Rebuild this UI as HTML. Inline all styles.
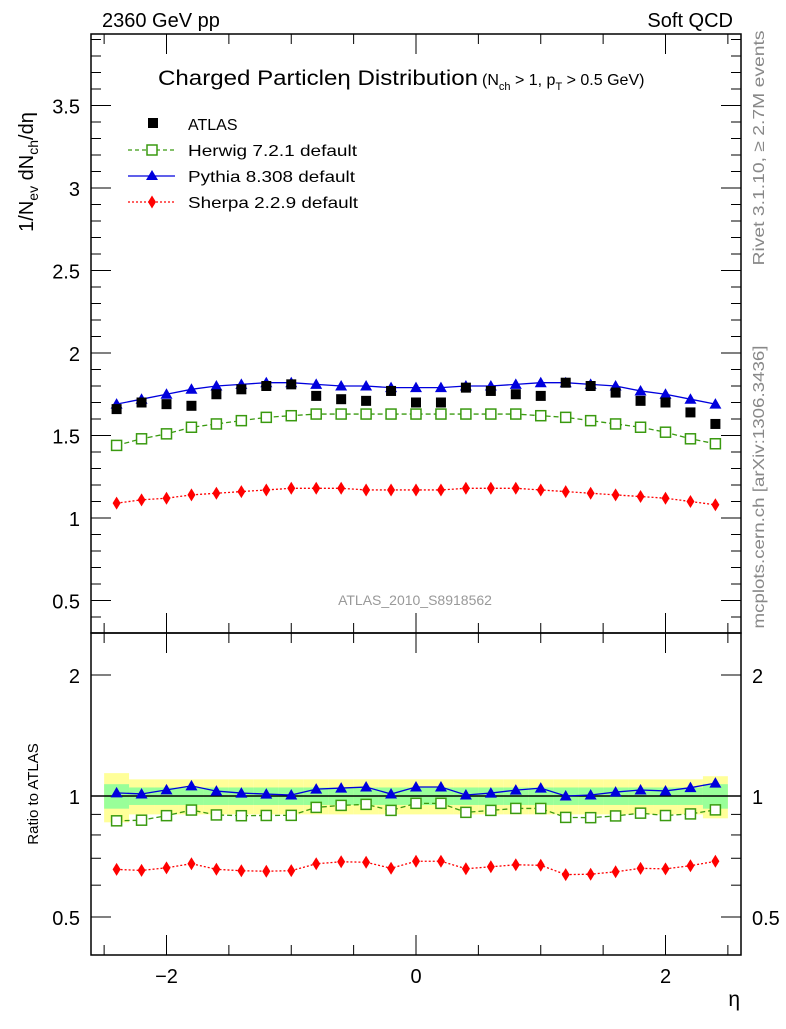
<!DOCTYPE html>
<html><head><meta charset="utf-8"><style>
body{margin:0;background:#fff}
svg text{font-family:"Liberation Sans",Arial,sans-serif}
</style></head><body>
<svg id="c" width="786" height="1024" viewBox="0 0 786 1024" xmlns="http://www.w3.org/2000/svg">
<g id="bands"></g>
<g id="marks"></g>
<g id="axes" stroke="#000" fill="none" stroke-width="1.5"></g>
<g id="labels"></g>
</svg>
<script>
const etas=[-2.4,-2.2,-2.0,-1.8,-1.6,-1.4,-1.2,-1.0,-0.8,-0.6,-0.4,-0.2,0,0.2,0.4,0.6,0.8,1.0,1.2,1.4,1.6,1.8,2.0,2.2,2.4];
const atlas=[1.66,1.70,1.69,1.68,1.75,1.78,1.80,1.81,1.74,1.72,1.71,1.77,1.70,1.70,1.79,1.77,1.75,1.74,1.82,1.80,1.76,1.71,1.70,1.64,1.57];
const pythia=[1.69,1.72,1.75,1.78,1.80,1.81,1.82,1.82,1.81,1.80,1.80,1.79,1.79,1.79,1.80,1.80,1.81,1.82,1.82,1.81,1.80,1.77,1.75,1.72,1.69];
const herwig=[1.44,1.48,1.51,1.55,1.57,1.59,1.61,1.62,1.63,1.63,1.63,1.63,1.63,1.63,1.63,1.63,1.63,1.62,1.61,1.59,1.57,1.55,1.52,1.48,1.45];
const sherpa=[1.09,1.11,1.12,1.14,1.15,1.16,1.17,1.18,1.18,1.18,1.17,1.17,1.17,1.17,1.18,1.18,1.18,1.17,1.16,1.15,1.14,1.13,1.12,1.10,1.08];
const statErr=[0.07,0.05,0.05,0.05,0.05,0.05,0.05,0.05,0.05,0.05,0.05,0.05,0.05,0.05,0.05,0.05,0.05,0.05,0.05,0.05,0.05,0.05,0.05,0.05,0.07];
const totErr=[0.14,0.10,0.10,0.10,0.10,0.10,0.10,0.10,0.10,0.10,0.10,0.10,0.10,0.10,0.10,0.10,0.10,0.10,0.10,0.10,0.10,0.10,0.10,0.10,0.12];
const topTicks=[0.5,1,1.5,2,2.5,3,3.5];
const ratioTicks=[0.5,1,2];
const xTicks=[-2,0,2];

const L=91,R=741,T=34,M=633,B=955;
const X=v=>416+v*124.75;
const Y=v=>600.5-(v-0.5)*165;
const YR=v=>796-121*Math.log2(v);
const NS="http://www.w3.org/2000/svg";
function el(tag,attrs,parent){const e=document.createElementNS(NS,tag);for(const k in attrs)e.setAttribute(k,attrs[k]);parent.appendChild(e);return e;}
const bands=document.getElementById('bands'),marks=document.getElementById('marks'),axes=document.getElementById('axes'),labels=document.getElementById('labels');
const hw=0.1*124.75;
etas.forEach((e,i)=>{
 let r=el('rect',{x:X(e)-hw,width:2*hw,y:YR(1+totErr[i]),height:YR(1-totErr[i])-YR(1+totErr[i]),fill:'#ffff99'},bands);
 
 
});
etas.forEach((e,i)=>{
 let r=el('rect',{x:X(e)-hw,width:2*hw,y:YR(1+statErr[i]),height:YR(1-statErr[i])-YR(1+statErr[i]),fill:'#99ff99'},bands);
 
 
});
let one=el('line',{x1:L,x2:R,y1:YR(1),y2:YR(1),stroke:'#000','stroke-width':1.5},bands);



function marker(type,x,y,color,g){
 let m;
 if(type==='sq') m=el('rect',{x:x-5,y:y-5,width:10,height:10,fill:'#000'},g);
 else if(type==='osq') m=el('rect',{x:x-5,y:y-5,width:10,height:10,fill:'#fff',stroke:color,'stroke-width':1.5},g);
 else if(type==='tri') m=el('polygon',{points:`${x},${y-6} ${x-6},${y+4.5} ${x+6},${y+4.5}`,fill:color},g);
 else m=el('polygon',{points:`${x},${y-6.5} ${x-4},${y} ${x},${y+6.5} ${x+4},${y}`,fill:color},g);
 return m;
}
function series(vals,Yf,type,color,dash,name,ratio){
 const g=el('g',{},marks);
 
 
 const v=vals.map((a,i)=>ratio?a/atlas[i]:a);
 if(type!=='sq'){
  const p=el('polyline',{points:etas.map((e,i)=>X(e)+','+Yf(v[i])).join(' '),fill:'none',stroke:color,'stroke-width':1.3,'stroke-dasharray':dash},g);
  
  
 }
 etas.forEach((e,i)=>{const m=marker(type,X(e),Yf(v[i]),color,g);
  
  });
}
series(herwig,Y,'osq','#3a9a10','5,3','herwig',false);
series(sherpa,Y,'dia','#ff0000','2,2','sherpa',false);
series(pythia,Y,'tri','#0000dd','none','pythia',false);
series(atlas,Y,'sq','#000','none','atlas',false);
series(herwig,YR,'osq','#3a9a10','5,3','herwig',true);
series(sherpa,YR,'dia','#ff0000','2,2','sherpa',true);
series(pythia,YR,'tri','#0000dd','none','pythia',true);

let f1=el('rect',{x:L,y:T,width:R-L,height:M-T},axes);

let f2=el('rect',{x:L,y:M,width:R-L,height:B-M},axes);

function txt(s,x,y,size,anchor,fill,extra){const t=el('text',Object.assign({x:x,y:y,'font-size':size,'text-anchor':anchor||'start',fill:fill||'#000'},extra||{}),labels);t.innerHTML=s;return t;}
for(let v=0.4;v<=3.95;v+=0.1){const vv=Math.round(v*10)/10;const maj=Math.abs(vv*2-Math.round(vv*2))<1e-6;const len=maj?20:10;const y=Y(vv);if(y<T||y>M)continue;
 el('line',{x1:L,x2:L+len,y1:y,y2:y,'stroke-width':1},axes);el('line',{x1:R,x2:R-len,y1:y,y2:y,'stroke-width':1},axes);}
topTicks.forEach(v=>{const t=txt(String(v),80,Y(v)+8,20,'end');});
[0.4,0.5,0.6,0.7,0.8,0.9,1,2].forEach(v=>{const maj=ratioTicks.includes(v);const len=maj?20:10;const y=YR(v);if(y<M||y>B)return;
 el('line',{x1:L,x2:L+len,y1:y,y2:y,'stroke-width':1},axes);el('line',{x1:R,x2:R-len,y1:y,y2:y,'stroke-width':1},axes);});
ratioTicks.forEach(v=>{const a=txt(String(v),80,YR(v)+8,20,'end');
 const b=txt(String(v),752,YR(v)+8,20,'start');});
for(let v=-2.5;v<=2.5;v+=0.5){const maj=Math.abs(v-Math.round(v/2)*2)<1e-6;const len=maj?20:10;const x=X(v);if(x<L||x>R)continue;
 [[T,1],[M,1],[M,-1],[B,-1]].forEach(([y0,d])=>el('line',{x1:x,x2:x,y1:y0,y2:y0+d*len,'stroke-width':1},axes));}
xTicks.forEach(v=>{const t=txt(v<0?'\u2212'+(-v):String(v),X(v),983,20,'middle');});
</script>
<svg width="786" height="1024" style="position:absolute;left:0;top:0" xmlns="http://www.w3.org/2000/svg">
<g font-family="Liberation Sans, Arial, sans-serif">
<text x="102" y="27" font-size="20">2360 GeV pp</text>
<text x="733" y="27" font-size="20" text-anchor="end">Soft QCD</text>
<text x="158" y="85" font-size="21" textLength="320" lengthAdjust="spacingAndGlyphs">Charged Particleη Distribution</text>
<text x="482" y="85" font-size="16">(N<tspan font-size="11" dy="5">ch</tspan><tspan dy="-5"> &gt; 1, p</tspan><tspan font-size="11" dy="5">T</tspan><tspan dy="-5"> &gt; 0.5 GeV)</tspan></text>
<text transform="translate(33,172) rotate(-90)" font-size="20" text-anchor="middle">1/N<tspan font-size="14" dy="5">ev</tspan><tspan dy="-5"> dN</tspan><tspan font-size="14" dy="5">ch</tspan><tspan dy="-5">/dη</tspan></text>
<text transform="translate(38,794) rotate(-90)" font-size="15" text-anchor="middle">Ratio to ATLAS</text>
<text x="740" y="1006" font-size="21" text-anchor="end">η</text>
<text x="415" y="605" font-size="14" text-anchor="middle" fill="#999">ATLAS_2010_S8918562</text>
<text transform="translate(764,148) rotate(-90)" font-size="16" text-anchor="middle" textLength="235" lengthAdjust="spacingAndGlyphs" fill="#888">Rivet 3.1.10, ≥ 2.7M events</text>
<text transform="translate(764,487) rotate(-90)" font-size="16" text-anchor="middle" textLength="283" lengthAdjust="spacingAndGlyphs" fill="#888">mcplots.cern.ch [arXiv:1306.3436]</text>
<g>
<rect x="148" y="118" width="10" height="10" fill="#000"/>
<text x="188" y="130" font-size="16">ATLAS</text>
<line x1="128" x2="175" y1="150" y2="150" stroke="#3a9a10" stroke-width="1.3" stroke-dasharray="4,3"/>
<rect x="147" y="145" width="10" height="10" fill="#fff" stroke="#3a9a10" stroke-width="1.5"/>
<text x="188" y="156" font-size="16" textLength="169" lengthAdjust="spacingAndGlyphs">Herwig 7.2.1 default</text>
<line x1="128" x2="175" y1="176" y2="176" stroke="#0000dd" stroke-width="1.3"/>
<polygon points="152,170 146,180 158,180" fill="#0000dd"/>
<text x="188" y="182" font-size="16" textLength="167" lengthAdjust="spacingAndGlyphs">Pythia 8.308 default</text>
<line x1="128" x2="175" y1="202" y2="202" stroke="#ff0000" stroke-width="1.3" stroke-dasharray="2,2"/>
<polygon points="152,195.5 148,202 152,208.5 156,202" fill="#ff0000"/>
<text x="188" y="208" font-size="16" textLength="170" lengthAdjust="spacingAndGlyphs">Sherpa 2.2.9 default</text>
</g>
</g>
</svg>
</body></html>
